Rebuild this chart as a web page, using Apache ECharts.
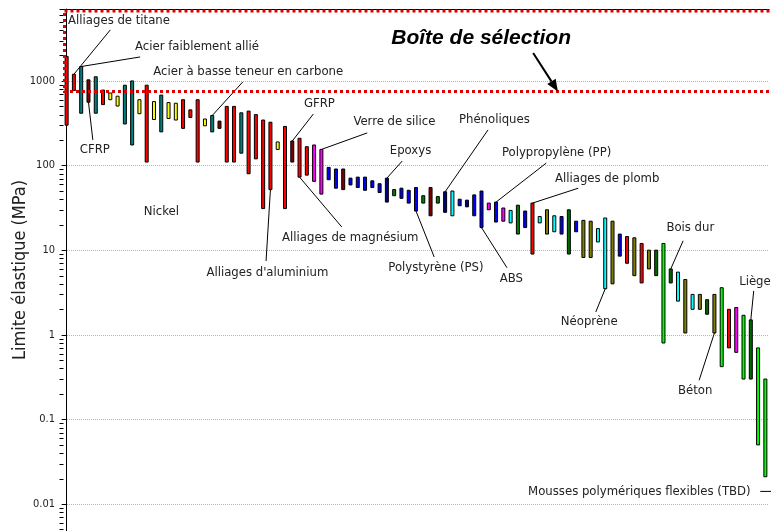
<!DOCTYPE html>
<html>
<head>
<meta charset="utf-8">
<title>Limite élastique</title>
<script src="https://cdn.jsdelivr.net/npm/echarts@6/dist/echarts.min.js"></script>
<style>
    html, body { margin: 0; padding: 0; background: #fff; }
    #chart { width: 771px; height: 531px; }
</style>
</head>
<body>
<div id="chart"></div>
<script>
// yield strength ranges in MPa, one bar per material, left to right
var lowValues = [300, 770, 415, 560, 415, 525, 600, 505, 310, 175,
    410, 110, 350, 250, 360, 345, 275, 370, 110, 295,
    250, 275, 110, 110, 140, 80, 120, 31, 52, 155,
    31, 110, 73, 77, 65, 46, 68, 54, 52, 59,
    55, 51, 55, 48, 37, 44, 41, 36, 29, 36,
    25.5, 36, 28, 25.5, 33.5, 32.5, 25.5, 18.5, 30, 21.5,
    22, 21, 15.5, 18.5, 9, 21, 15.5, 16.5, 15.5, 9,
    16.5, 8.2, 8.2, 12.5, 3.5, 4, 8.5, 7, 5, 4.1,
    6, 5, 0.8, 4.1, 2.5, 1.05, 2, 2, 1.75, 1.05,
    0.42, 0.7, 0.62, 0.3, 0.3, 0.05, 0.021];
var highValues = [1950, 1200, 1480, 1030, 1120, 780, 720, 660, 890, 1000,
    600, 890, 570, 680, 555, 545, 600, 455, 600, 355,
    390, 335, 500, 500, 420, 440, 400, 345, 325, 190,
    290, 195, 210, 167, 175, 155, 95, 91, 91, 71,
    73, 73, 66, 61, 71, 52, 54, 51, 55, 44,
    55, 43, 49, 50, 40, 39, 45, 50, 36, 37,
    31.5, 29.5, 34, 29, 36, 25, 30, 25.5, 25, 30,
    22, 22.5, 22, 18, 24, 22, 15.5, 14.5, 14, 12,
    10, 10, 12, 6, 5.5, 4.5, 3, 3, 2.6, 3,
    3.6, 2, 2.1, 1.7, 1.5, 0.7, 0.3];
var barColorKeys = ['R','R','T','M','T','R','Y','Y','T','T',
    'Y','R','Y','T','Y','Y','R','R','R','Y',
    'T','M','R','R','T','R','R','R','R','Y',
    'R','M','R','R','P','P','B','B','M','B',
    'B','B','B','B','N','G','B','B','B','G',
    'M','G','N','C','B','N','B','B','P','B',
    'P','C','G','B','R','C','O','C','B','D',
    'B','O','O','C','C','O','B','R','O','R',
    'O','D','L','D','C','O','C','O','D','O',
    'L','R','P','L','D','L','L'];
var palette = {
    R: '#ff0000', T: '#008080', M: '#800000', Y: '#ffff00', P: '#ff00ff', B: '#0000ff',
    N: '#000080', G: '#008000', C: '#00ffff', O: '#808000', D: '#006800', L: '#00ff00'
};

// labels: text position (x = bar slot, y = MPa), where its leader starts, which bar end it points at
var annoTexts = ['Alliages de titane', 'Acier faiblement allié', 'CFRP', 'Acier à basse teneur en carbone',
    'GFRP', 'Verre de silice', 'Epoxys', 'Phénoliques', 'Polypropylène (PP)', 'Alliages de plomb',
    'Nickel', 'Alliages de magnésium', "Alliages d'aluminium", 'Polystyrène (PS)', 'ABS', 'Néoprène',
    'Bois dur', 'Liège', 'Béton', 'Mousses polymériques flexibles (TBD)'];
var annoTextAt = [[0.2, 5100], [9.4, 2520], [1.8, 153], [11.9, 1280], [32.6, 534], [39.4, 327],
    [44.4, 149], [53.9, 346], [59.8, 141], [67.1, 71], [10.6, 28.3], [29.6, 13.9], [19.2, 5.5],
    [44.2, 6.2], [59.5, 4.6], [67.9, 1.42], [82.4, 18.3], [92.4, 4.3], [84.0, 0.217], [63.4, 0.0139]];
var annoLineFrom = [[6.0, 4010], [10.1, 1920], [3.6, 201], [24.2, 973], [33.9, 407], [41.3, 243],
    [46.1, 113], [57.9, 264], [65.9, 107], [70.3, 54], null, [37.8, 18.8], [27.4, 7.45],
    [50.5, 8.3], [60.5, 6.2], [72.7, 1.86], [84.7, 12.9], [94.4, 3.3], [86.9, 0.29], [95.3, 0.0141]];
var annoBar = [1, 2, 3, 20, 31, 35, 44, 52, 59, 64, -1, 32, 28, 48, 57, 74, 83, 94, 89, -1];
var annoBarEnd = ['high', 'high', 'low', 'high', 'high', 'high', 'high', 'high', 'high', 'high', '',
    'low', 'low', 'low', 'low', 'low', 'high', 'high', 'low', ''];
var foamTickTo = [96.8, 0.0141];

// selection box and its caption
var selectionLow = 750;
var selectionTitle = 'Boîte de sélection';
var selectionTitleAt = [44.6, 3220];
var selectionArrow = [[64.1, 2140], [67.5, 750]];

// y axis
var yMin = 0.0048;
var yMax = 7080;
var decades = [0.001, 0.01, 0.1, 1, 10, 100, 1000];
var minorSteps = [2, 3, 4, 5, 6, 7, 8, 9];

var textFont = '"DejaVu Sans Condensed", "DejaVu Sans", sans-serif';

var minorTicks = [];
decades.forEach(function (d) {
    minorSteps.forEach(function (s) {
        var v = +(d * s).toPrecision(3);
        if (v > yMin && v < yMax) minorTicks.push([0, v]);
    });
});

var barData = lowValues.map(function (lo, i) {
    return [i, lo, highValues[i]];
});

function renderBar(params, api) {
    var i = params.dataIndex;
    var top = api.coord([api.value(0), api.value(2)]);
    var bottom = api.coord([api.value(0), api.value(1)]);
    return {
        type: 'rect',
        shape: { x: top[0] - 1.5, y: top[1], width: 3, height: bottom[1] - top[1] },
        style: { fill: palette[barColorKeys[i]], stroke: '#000', lineWidth: 1 }
    };
}

function renderMinorTick(params, api) {
    var p = api.coord([0, api.value(1)]);
    var x = params.coordSys.x;
    var y = Math.round(p[1]) + 0.5;
    return {
        type: 'line',
        shape: { x1: x - 3.5, y1: y, x2: x + 0.5, y2: y },
        style: { stroke: '#000', lineWidth: 1 }
    };
}

function renderAnno(params, api) {
    var i = params.dataIndex;
    var children = [];
    var t = api.coord(annoTextAt[i]);
    if (annoLineFrom[i]) {
        var a = api.coord(annoLineFrom[i]);
        var b;
        if (annoBar[i] >= 0) {
            var v = annoBarEnd[i] === 'high' ? highValues[annoBar[i]] : lowValues[annoBar[i]];
            b = api.coord([annoBar[i], v]);
        } else {
            b = api.coord(foamTickTo);
        }
        children.push({
            type: 'line',
            shape: { x1: a[0], y1: a[1], x2: b[0], y2: b[1] },
            style: { stroke: '#000', lineWidth: 1 }
        });
    }
    children.push({
        type: 'text',
        style: {
            text: annoTexts[i], x: t[0], y: t[1], fill: '#222',
            fontSize: 13, fontFamily: textFont, align: 'left', verticalAlign: 'middle'
        }
    });
    return { type: 'group', children: children };
}

function renderSelection(params, api) {
    var cs = params.coordSys;
    var bottom = api.coord([0, selectionLow])[1];
    var top = cs.y + 2;
    return {
        type: 'rect',
        shape: { x: cs.x + 1.5, y: top, width: cs.width + 20, height: bottom - top },
        style: { fill: 'none', stroke: '#dd0000', lineWidth: 3, lineDash: [3, 3] }
    };
}

function renderSelectionTitle(params, api) {
    var t = api.coord(selectionTitleAt);
    var a = api.coord(selectionArrow[0]);
    var b = api.coord(selectionArrow[1]);
    var dx = b[0] - a[0], dy = b[1] - a[1];
    var len = Math.sqrt(dx * dx + dy * dy);
    var ux = dx / len, uy = dy / len;
    var headLen = 12, headW = 5;
    var bx = b[0] - ux * headLen, by = b[1] - uy * headLen;
    return {
        type: 'group',
        children: [
            {
                type: 'text',
                style: {
                    text: selectionTitle, x: t[0], y: t[1], fill: '#000',
                    fontSize: 21, fontWeight: 'bold', fontStyle: 'italic',
                    fontFamily: '"Liberation Sans", Arial, sans-serif', align: 'left', verticalAlign: 'middle'
                }
            },
            {
                type: 'line',
                shape: { x1: a[0], y1: a[1], x2: bx, y2: by },
                style: { stroke: '#000', lineWidth: 2 }
            },
            {
                type: 'polygon',
                shape: { points: [[b[0], b[1]], [bx - uy * headW, by + ux * headW], [bx + uy * headW, by - ux * headW]] },
                style: { fill: '#000' }
            }
        ]
    };
}

var chart = echarts.init(document.getElementById('chart'));
var option = {
    animation: false,
    grid: { left: 63, right: 2, top: 9, bottom: 0, containLabel: false, outerBoundsMode: 'none' },
    xAxis: {
        type: 'value',
        min: -0.5,
        max: lowValues.length - 0.5,
        position: 'top',
        axisLine: { show: true, onZero: false, lineStyle: { color: '#000', width: 1 } },
        axisTick: { show: false },
        axisLabel: { show: false },
        splitLine: { show: false }
    },
    yAxis: {
        type: 'log',
        logBase: 10,
        min: yMin,
        max: yMax,
        name: 'Limite élastique (MPa)',
        nameLocation: 'middle',
        nameGap: 34,
        nameMoveOverlap: false,
        nameTextStyle: { fontSize: 18, color: '#222', fontFamily: textFont },
        axisLine: { show: true, lineStyle: { color: '#000', width: 1 } },
        axisTick: { show: true, length: 5, lineStyle: { color: '#000' } },
        minorTick: { show: false },
        axisLabel: {
            fontSize: 11, color: '#222', margin: 8, fontFamily: textFont,
            showMinLabel: false, showMaxLabel: false,
            formatter: function (v) { return String(+(+v).toPrecision(3)); }
        },
        splitLine: { show: true, lineStyle: { type: 'dotted', color: '#b4b4b4', width: 1 } }
    },
    series: [
        {
            type: 'custom',
            name: 'bars',
            renderItem: renderBar,
            encode: { x: 0, y: [1, 2] },
            data: barData,
            z: 3
        },
        {
            type: 'custom',
            name: 'minorTicks',
            renderItem: renderMinorTick,
            encode: { x: 0, y: 1 },
            data: minorTicks,
            clip: false,
            z: 4
        },
        {
            type: 'custom',
            name: 'labels',
            renderItem: renderAnno,
            encode: { x: 0, y: 1 },
            data: annoTextAt,
            clip: false,
            z: 5
        },
        {
            type: 'custom',
            name: 'selection',
            renderItem: renderSelection,
            encode: { x: 0, y: 1 },
            data: [[0, selectionLow]],
            z: 6
        },
        {
            type: 'custom',
            name: 'selectionTitle',
            renderItem: renderSelectionTitle,
            encode: { x: 0, y: 1 },
            data: [selectionTitleAt],
            z: 6
        }
    ]
};
chart.setOption(option);
</script>
</body>
</html>
